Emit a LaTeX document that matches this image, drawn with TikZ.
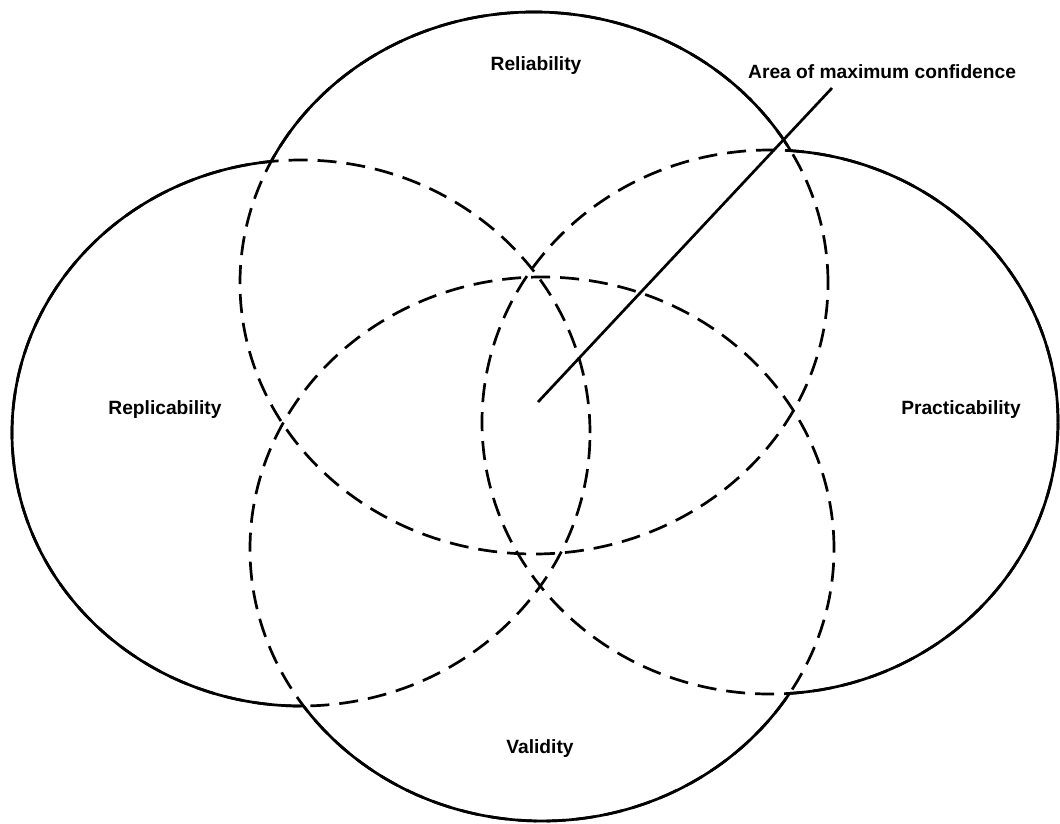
\documentclass[tikz,border=0pt]{standalone}
\usepackage{fontspec}
\setmainfont{Liberation Sans}
\begin{document}
\begin{tikzpicture}[x=1pt,y=-1pt,
  outline/.style={line width=2.7pt},
  innerpart/.style={line width=2.7pt, dash pattern=on 19pt off 10pt},
  lbl/.style={font=\bfseries\fontsize{19.2}{21}\selectfont, inner sep=0pt}]
\useasboundingbox (0,0) rectangle (1060,823);
% dashed full ellipses
\draw[innerpart] (534,283) ellipse [x radius=294pt, y radius=271pt];
\draw[innerpart] (301,433) ellipse [x radius=289pt, y radius=273pt];
\draw[innerpart] (770,422) ellipse [x radius=288pt, y radius=272pt];
\draw[innerpart] (542,549) ellipse [x radius=292pt, y radius=272pt];
% solid outer parts: Reliability
\begin{scope}[even odd rule]
  \clip (0,0) rectangle (1060,823) (301,433) ellipse [x radius=289pt, y radius=273pt];
  \clip (0,0) rectangle (1060,823) (770,422) ellipse [x radius=288pt, y radius=272pt];
  \clip (0,0) rectangle (1060,823) (542,549) ellipse [x radius=292pt, y radius=272pt];
  \draw[outline] (534,283) ellipse [x radius=294pt, y radius=271pt];
\end{scope}
% Replicability
\begin{scope}[even odd rule]
  \clip (0,0) rectangle (1060,823) (534,283) ellipse [x radius=294pt, y radius=271pt];
  \clip (0,0) rectangle (1060,823) (770,422) ellipse [x radius=288pt, y radius=272pt];
  \clip (0,0) rectangle (1060,823) (542,549) ellipse [x radius=292pt, y radius=272pt];
  \draw[outline] (301,433) ellipse [x radius=289pt, y radius=273pt];
\end{scope}
% Practicability
\begin{scope}[even odd rule]
  \clip (0,0) rectangle (1060,823) (534,283) ellipse [x radius=294pt, y radius=271pt];
  \clip (0,0) rectangle (1060,823) (301,433) ellipse [x radius=289pt, y radius=273pt];
  \clip (0,0) rectangle (1060,823) (542,549) ellipse [x radius=292pt, y radius=272pt];
  \draw[outline] (770,422) ellipse [x radius=288pt, y radius=272pt];
\end{scope}
% Validity
\begin{scope}[even odd rule]
  \clip (0,0) rectangle (1060,823) (534,283) ellipse [x radius=294pt, y radius=271pt];
  \clip (0,0) rectangle (1060,823) (301,433) ellipse [x radius=289pt, y radius=273pt];
  \clip (0,0) rectangle (1060,823) (770,422) ellipse [x radius=288pt, y radius=272pt];
  \draw[outline] (542,549) ellipse [x radius=292pt, y radius=272pt];
\end{scope}
% labels
\node[lbl] (reliability) at (536,66) {Reliability};
\node[lbl] (replicability) at (165,410) {Replicability};
\node[lbl] (practicability) at (961,410) {Practicability};
\node[lbl] (validity) at (540,749) {Validity};
\node[lbl, anchor=west] (area) at (748,72) {Area of maximum confidence};
% pointer line
\coordinate (focus) at (538,402);
\coordinate (tip) at (832,88);
\draw[outline] (focus) -- (tip);
\end{tikzpicture}
\end{document}
